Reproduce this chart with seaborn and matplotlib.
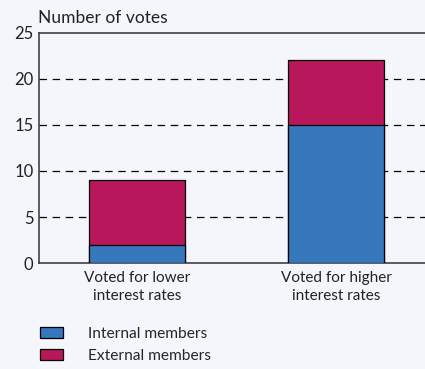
import pandas as pd
import matplotlib
matplotlib.use("Agg")
import matplotlib.pyplot as plt
import matplotlib.patches as mpatches
import seaborn as sns

categories = ["Voted for lower\ninterest rates", "Voted for higher\ninterest rates"]
internal = [2, 15]
external = [7, 7]
series_names = ["Internal members", "External members"]
yticks = [0, 5, 10, 15, 20, 25]

BG = "#f4f6fb"
BLUE = "#3778bd"
MAGENTA = "#b8175c"

sns.set_theme(style="white")
plt.rcParams["font.family"] = ["Lato", "DejaVu Sans"]
plt.rcParams["font.size"] = 11

df = pd.DataFrame({
    "category": categories,
    "internal": internal,
    "total": [i + e for i, e in zip(internal, external)],
})

fig = plt.figure(figsize=(4.25, 3.69), dpi=100, facecolor=BG)
ax = fig.add_axes([0.092, 0.287, 0.908, 0.624])
ax.set_facecolor(BG)

# stacked bars: draw totals (external on top) then internal over them
sns.barplot(data=df, x="category", y="total", color=MAGENTA, width=0.48,
            edgecolor="black", linewidth=0.9, saturation=1, ax=ax, zorder=3)
sns.barplot(data=df, x="category", y="internal", color=BLUE, width=0.48,
            edgecolor="black", linewidth=0.9, saturation=1, ax=ax, zorder=3)

ax.set_xlim(-0.49, 1.447)
ax.set_ylim(0, 25)
ax.set_yticks(yticks)
ax.set_yticklabels([str(t) for t in yticks], fontsize=12)
ax.set_xlabel("")
ax.set_ylabel("")
for y in yticks[1:-1]:
    ax.axhline(y, color="black", linestyle=(0, (6, 4.5)), linewidth=0.9, zorder=1)

ax.tick_params(axis="x", length=0, pad=6, labelsize=11, colors="#222222")
for lbl in ax.get_xticklabels():
    lbl.set_linespacing(1.3)
ax.set_xticks([0.5], minor=True)
ax.tick_params(axis="x", which="minor", length=4, width=1, color="#555555", direction="in")
ax.tick_params(axis="y", length=4, width=0.8, color="#333333", pad=4, labelcolor="#222222")
ax.yaxis.set_tick_params(direction="in")

for side in ["left", "bottom", "top"]:
    ax.spines[side].set_visible(True)
    ax.spines[side].set_color("#333333")
    ax.spines[side].set_linewidth(1.1)
ax.spines["right"].set_visible(False)

fig.text(0.09, 0.952, "Number of votes", fontsize=12.5, color="#222222", ha="left", va="center")

handles = [mpatches.Patch(facecolor=BLUE, edgecolor="black", linewidth=0.9),
           mpatches.Patch(facecolor=MAGENTA, edgecolor="black", linewidth=0.9)]
fig.legend(handles, series_names, loc="lower left", bbox_to_anchor=(0.062, -0.022),
           frameon=False, fontsize=11.2, handlelength=1.45, handleheight=0.7,
           handletextpad=1.6, labelspacing=0.55)

fig.savefig("out.png", dpi=100, facecolor=BG)
